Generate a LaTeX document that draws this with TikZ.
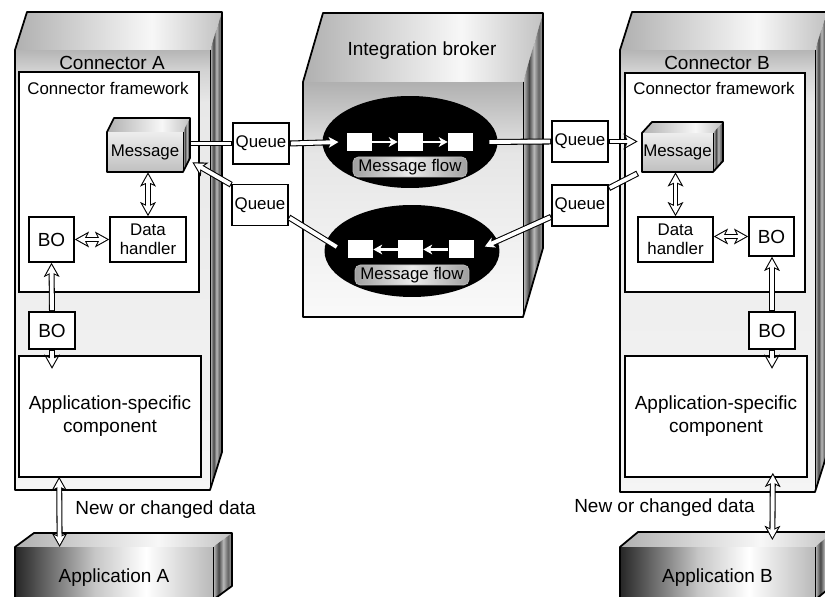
\documentclass[tikz,border=0pt]{standalone}
\usepackage{fontspec}
\setmainfont{Liberation Sans}
\usetikzlibrary{arrows.meta,calc,shapes.geometric}

% shadings for the solid boxes (bounding box maps onto 25bp--75bp)
\pgfdeclareverticalshading{connfront}{100bp}{color(0bp)=(gray!8); color(25bp)=(gray!8); color(69bp)=(gray!18); color(72.7bp)=(gray!35); color(75bp)=(gray!58); color(100bp)=(gray!58)}
\pgfdeclareverticalshading{brokerfront}{100bp}{color(0bp)=(gray!4); color(25bp)=(gray!4); color(60bp)=(gray!20); color(75bp)=(gray!62); color(100bp)=(gray!62)}
\pgfdeclareverticalshading{msgfront}{100bp}{color(0bp)=(gray!50); color(25bp)=(gray!50); color(75bp)=(gray!14); color(100bp)=(gray!14)}
\pgfdeclarehorizontalshading{lidshade}{100bp}{color(0bp)=(gray!62); color(25bp)=(gray!62); color(58bp)=(gray!6); color(75bp)=(gray!48); color(100bp)=(gray!48)}
\pgfdeclarehorizontalshading{sideshade}{100bp}{color(0bp)=(gray!45); color(25bp)=(gray!45); color(40bp)=(black!72); color(52bp)=(gray!55); color(64bp)=(black!60); color(75bp)=(gray!70); color(100bp)=(gray!70)}
\pgfdeclarehorizontalshading{appfront}{100bp}{color(0bp)=(black!85); color(25bp)=(black!85); color(45bp)=(gray!45); color(58bp)=(white); color(75bp)=(gray!55); color(100bp)=(gray!55)}

% front x1,y1,x2,y2, depth dx,dy, shadings front/top/side
\newcommand{\solidbox}[9]{%
  \shade[shading=#7] (#1,#2) rectangle (#3,#4);
  \shade[shading=#8] (#1,#2) -- ++(#5,-#6) -- ({#3+#5},{#2-#6}) -- (#3,#2) -- cycle;
  \shade[shading=#9] (#3,#2) -- ({#3+#5},{#2-#6}) -- ({#3+#5},{#4-#6}) -- (#3,#4) -- cycle;
  \draw[line width=0.4pt] (#3,#2) -- (#3,#4);
  \draw[line width=1pt, line join=round] (#1,#2) -- ++(#5,-#6) -- ({#3+#5},{#2-#6}) -- ({#3+#5},{#4-#6}) -- (#3,#4) -- (#1,#4) -- cycle;
}

\begin{document}
\begin{tikzpicture}[x=0.02cm, y=-0.02cm,
  bigtext/.style={font=\fontsize{10.8}{13}\selectfont},
  smalltext/.style={font=\fontsize{9.6}{11}\selectfont},
  panel/.style={draw, fill=white, line width=1pt, inner sep=0pt},
  box/.style={draw, fill=white, line width=0.9pt, inner sep=1pt, align=center, smalltext},
  facetext/.style={inner sep=0pt, align=center},
  flow/.style={ellipse, fill=black, inner sep=0pt, minimum width=3.5cm, minimum height=1.84cm},
  slot/.style={fill=white, inner sep=0pt, minimum width=0.5cm, minimum height=0.36cm},
  flowlabel/.style={draw=gray!50, rounded corners=3pt, left color=gray!75, right color=gray!75, middle color=gray!15, inner sep=0pt, minimum width=2.28cm, minimum height=0.4cm, smalltext},
  hop/.style={draw=white, line width=1.4pt, -{Stealth[length=5pt, width=5.5pt, inset=1.4pt]}},
  pipe/.style={draw=white, line width=2.2pt, shorten <=0.6pt, shorten >=0.6pt,
    preaction={draw=black, line width=3.4pt, shorten <=0pt, shorten >=0pt}},
  pipeto/.style={draw=white, line width=2.2pt, shorten <=0.6pt, shorten >=1.25pt,
    -{Stealth[length=5.46pt, width=6pt, inset=1.37pt]},
    preaction={draw=black, line width=3.4pt, shorten <=0pt, shorten >=0pt,
      -{Stealth[length=8pt, width=8.8pt, inset=2pt]}}},
  pipeboth/.style={draw=white, line width=2.2pt, shorten <=1.25pt, shorten >=1.25pt,
    {Stealth[length=5.46pt, width=6pt, inset=1.37pt]}-{Stealth[length=5.46pt, width=6pt, inset=1.37pt]},
    preaction={draw=black, line width=3.4pt, shorten <=0pt, shorten >=0pt,
      {Stealth[length=8pt, width=8.8pt, inset=2pt]}-{Stealth[length=8pt, width=8.8pt, inset=2pt]}}}
]
\useasboundingbox (0,0) rectangle (825,597);

% Solid boxes
\solidbox{15}{50}{210}{490}{12}{38}{connfront}{lidshade}{sideshade}
\solidbox{620}{50}{815}{492}{12}{38}{connfront}{lidshade}{sideshade}
\solidbox{303}{82}{523}{317}{20}{69}{brokerfront}{lidshade}{sideshade}
\solidbox{15}{547}{213}{600}{19}{14}{appfront}{lidshade}{sideshade}
\solidbox{620}{547}{815}{600}{18}{15}{appfront}{lidshade}{sideshade}

\node[bigtext] (titleA) at (112,63) {Connector A};
\node[bigtext] (titleB) at (717,63) {Connector B};
\node[bigtext] (broker) at (422,51) {Integration broker};

% Connector A
\node[panel, minimum width=3.6cm, minimum height=4.4cm] (fwA) at (109,182) {};
\node[smalltext, anchor=west, inner sep=0pt] (fwAlabel) at (27,88) {Connector framework};
\solidbox{107}{132}{183}{172}{7}{14}{msgfront}{lidshade}{sideshade}
\node[facetext, smalltext, minimum width=1.52cm, minimum height=0.8cm] (msgA) at (145,152) {Message};
\node[box, bigtext, minimum width=0.9cm, minimum height=0.9cm] (boA) at (51.5,239.5) {BO};
\node[box, minimum width=1.52cm, minimum height=0.9cm] (dhA) at (148,239.5) {Data\\handler};
\node[box, bigtext, minimum width=0.92cm, minimum height=0.74cm] (boA2) at (52,330.5) {BO};
\node[panel, bigtext, align=center, minimum width=3.64cm, minimum height=2.42cm] (asA) at (110,416.5) {Application-specific\\component};
\node[facetext, bigtext, anchor=north, minimum width=3.96cm, minimum height=1.2cm] (appA) at (114,547) {Application A};
\node[bigtext, anchor=west, inner sep=0pt] (newA) at (75,510) {New or changed data};

% Connector B
\node[panel, minimum width=3.6cm, minimum height=4.38cm] (fwB) at (715,182.5) {};
\node[smalltext, anchor=west, inner sep=0pt] (fwBlabel) at (633,88) {Connector framework};
\solidbox{642}{133}{713}{172}{10}{11}{msgfront}{lidshade}{sideshade}
\node[facetext, smalltext, minimum width=1.42cm, minimum height=0.78cm] (msgB) at (677.5,152.5) {Message};
\node[box, minimum width=1.5cm, minimum height=0.9cm] (dhB) at (675.5,239.5) {Data\\handler};
\node[box, bigtext, minimum width=0.9cm, minimum height=0.78cm] (boB) at (771.5,236.5) {BO};
\node[box, bigtext, minimum width=0.92cm, minimum height=0.74cm] (boB2) at (772,330.5) {BO};
\node[panel, bigtext, align=center, minimum width=3.64cm, minimum height=2.42cm] (asB) at (716,416.5) {Application-specific\\component};
\node[facetext, bigtext, anchor=north, minimum width=3.9cm, minimum height=1.22cm] (appB) at (717.5,547) {Application B};
\node[bigtext, anchor=east, inner sep=0pt] (newB) at (755,508) {New or changed data};

% Broker message flows
\node[flow] (flowtop) at (410,142) {};
\node[flow] (flowbot) at (412,251) {};
\node[slot] (s11) at (359.5,142) {};
\node[slot] (s12) at (410.5,142) {};
\node[slot] (s13) at (460.5,142) {};
\node[slot] (s21) at (360.5,249.5) {};
\node[slot] (s22) at (410.5,249.5) {};
\node[slot] (s23) at (461,249.5) {};
\draw[hop] (s11) -- (s12);
\draw[hop] (s12) -- (s13);
\draw[hop] (s23) -- (s22);
\draw[hop] (s22) -- (s21);
\node[flowlabel] (lbltop) at (410,167) {Message flow};
\node[flowlabel] (lblbot) at (412,275) {Message flow};

% Queues
\node[box, minimum width=1.12cm, minimum height=0.82cm] (qA1) at (261,143.5) {Queue};
\node[box, minimum width=1.12cm, minimum height=0.82cm] (qA2) at (260,205) {Queue};
\node[box, minimum width=1.12cm, minimum height=0.82cm] (qB1) at (580,141.5) {Queue};
\node[box, minimum width=1.12cm, minimum height=0.82cm] (qB2) at (580,205.5) {Queue};

% A to B through the broker
\draw[pipe] ($(qA1.west -| msgA.east)+(7,0)$) -- (qA1.west);
\draw[pipeto] (qA1.east) -- ($(s11.west)+(-6,0)$);
\draw[pipe] ($(s13.east)+(15,0)$) -- (qB1.west);
\draw[pipeto] (qB1.east) -- ($(qB1.east -| msgB.west)+(-4,0)$);

% B back to A
\draw[pipe] ($(msgB.south west)+(-4,1)$) -- ($(qB2.north east)+(0,4)$);
\draw[pipeto] ($(qB2.south west)+(0,-10)$) -- ($(s23.east)+(9,-2)$);
\draw[pipe] ($(s21.west)+(-10,-2)$) -- ($(qA2.south east)+(0,-9)$);
\draw[pipeto] ($(qA2.north west)+(0,1)$) -- ($(msgA.south east)+(9,-10)$);

% inside the connectors
\draw[pipeboth] (dhA.north |- msgA.south) -- (dhA.north);
\draw[pipeboth] (boA.east) -- (dhA.west);
\draw[pipeto] (boA2.north) -- (boA.south);
\draw[pipeto] (boA2.south) -- ($(boA2.south)+(0,19)$);
\draw[pipeboth] ($(asA.south west)+(41,-1)$) -- ($(appA.north west)+(45,0)$);

\draw[pipeboth] (dhB.north |- msgB.south) -- (dhB.north);
\draw[pipeboth] (dhB.east |- boB.west) -- (boB.west);
\draw[pipeto] (boB2.north) -- (boB2.north |- boB.south);
\draw[pipeto] (boB2.south) -- ($(boB2.south)+(0,19)$);
\draw[pipeboth] ($(asB.south east)+(-35,-5)$) -- ($(appB.north east)+(-43,-7)$);
\end{tikzpicture}
\end{document}
